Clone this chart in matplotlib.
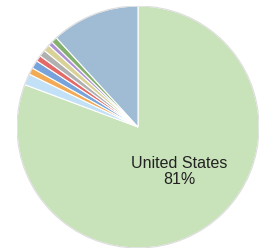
import matplotlib.pyplot as plt

countries = ['United States', 'Country B', 'Country C', 'Country D', 'Country E',
             'Country F', 'Country G', 'Country H', 'Country I', 'Other']
shares = [80.7, 1.5, 0.9, 1.1, 0.8, 0.9, 0.9, 0.6, 0.8, 11.8]
colors = ['#c8e2b9', '#c2e0f6', '#f2aa55', '#77a3dc', '#e46a6a',
          '#b0b0b0', '#d8d296', '#ad92d4', '#84b26e', '#9fbcd4']

fig = plt.figure(figsize=(2.62, 2.53), dpi=100)
ax = fig.add_axes([17 / 262, 3.5 / 253, 242 / 262, 243 / 253])

ax.pie(shares, colors=colors, startangle=90, counterclock=False, radius=1,
       wedgeprops={'edgecolor': 'white', 'linewidth': 0.8})
# faint outer rim
circle = plt.Circle((0, 0), 1.0, fill=False, edgecolor='#dddddd', linewidth=0.8)
ax.add_patch(circle)

ax.text(0.34, -0.36, f'{countries[0]}\n{round(shares[0])}%', ha='center', va='center',
        fontsize=11.5, family='Liberation Sans', color='#222222', linespacing=1.15)

ax.set_xlim(-1.0, 1.0)
ax.set_ylim(-1.0, 1.0)
ax.set_aspect('equal')
ax.axis('off')

fig.savefig('out.png', dpi=100)
